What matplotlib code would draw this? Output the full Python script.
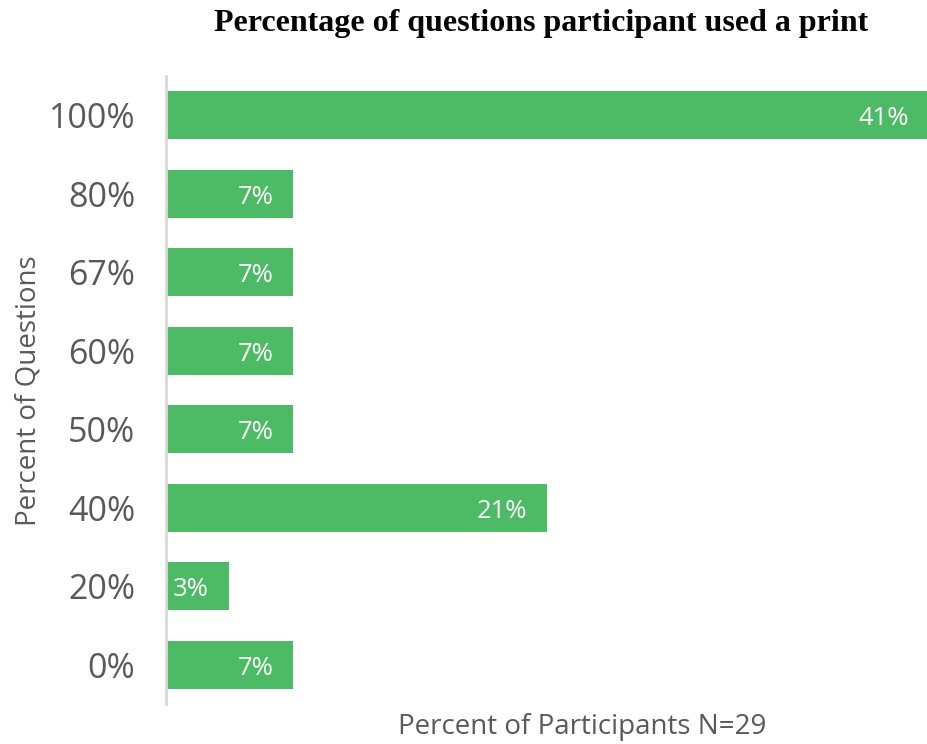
import matplotlib
matplotlib.use("Agg")
import matplotlib.pyplot as plt

categories = ["0%", "20%", "40%", "50%", "60%", "67%", "80%", "100%"]
values = [6.9, 3.4, 20.7, 6.9, 6.9, 6.9, 6.9, 41.4]
labels = ["7%", "3%", "21%", "7%", "7%", "7%", "7%", "41%"]

fig = plt.figure(figsize=(9.28, 7.44), dpi=100)
ax = fig.add_axes([166/928, 40/744, 762/928, 628/744])

green = "#4DBB65"
y = list(range(len(categories)))
ax.barh(y, values, height=0.61, color=green)
ax.set_ylim(-0.5, len(categories) - 0.5)
ax.set_xlim(0, max(values))

for yi, v, lab in zip(y, values, labels):
    ax.annotate(lab, (v, yi), xytext=(-14, -2.5), textcoords="offset points",
                ha="right", va="center", color="white", fontsize=18.5,
                family="Open Sans")

ax.set_yticks(y)
ax.set_yticklabels(categories, fontsize=24.5, color="#595959", family="Open Sans")
ax.tick_params(axis="y", length=0, pad=22)
ax.set_xticks([])
for s in ["top", "right", "bottom"]:
    ax.spines[s].set_visible(False)
ax.spines["left"].set_color("#D9D9D9")
ax.spines["left"].set_linewidth(2)

fig.text(541/928, 1 - 24/744, "Percentage of questions participant used a print",
         ha="center", va="center", fontsize=23, fontweight="bold",
         family="Liberation Serif")
fig.text(582/928, 1 - 727/744, "Percent of Participants N=29", ha="center",
         va="center", fontsize=20, color="#595959", family="Open Sans")
fig.text(29/928, 1 - 391/744, "Percent of Questions", ha="center", va="center",
         rotation=90, fontsize=20, color="#595959", family="Open Sans")

fig.savefig("out.png", dpi=100)
